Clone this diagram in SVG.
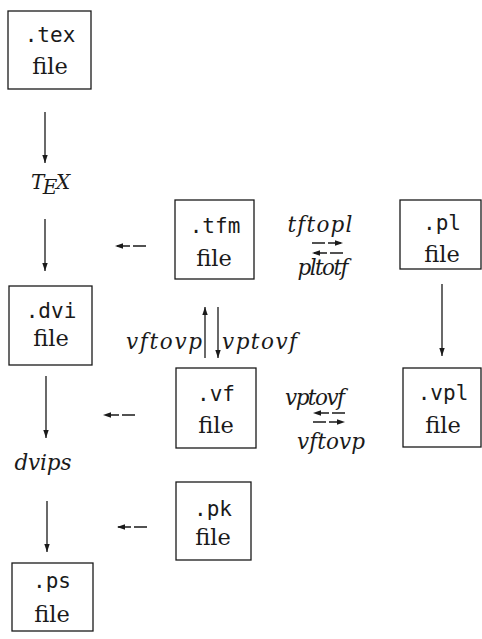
<svg xmlns="http://www.w3.org/2000/svg" width="482" height="639" viewBox="0 0 482 639">
<defs>
<marker id="ah" viewBox="0 0 8 8" refX="8" refY="4" markerWidth="8" markerHeight="8" markerUnits="userSpaceOnUse" orient="auto">
<path d="M0,1.3 L8,4 L0,6.7 z" fill="#1a1a1a"/>
</marker>
<style>
.box{fill:#fff;stroke:#1a1a1a;stroke-width:1.3}
.mono{font-family:"DejaVu Sans Mono","Liberation Mono",monospace;font-size:21px;fill:#1a1a1a;text-anchor:middle}
.ser{font-family:"DejaVu Serif","Liberation Serif",serif;font-size:22.5px;fill:#1a1a1a;text-anchor:middle}
.it{font-family:"DejaVu Serif","Liberation Serif",serif;font-style:italic;font-size:21.5px;fill:#1a1a1a}
.ln{stroke:#1a1a1a;stroke-width:1.3;fill:none;marker-end:url(#ah)}
.dash{stroke-dasharray:13 3}
</style>
</defs>
<rect width="482" height="639" fill="#fff"/>
<g id="connectors">
<line class="ln" x1="45" y1="112" x2="45" y2="163"/>
<line class="ln" x1="45" y1="219" x2="45" y2="271"/>
<line class="ln" x1="46" y1="376" x2="46" y2="438"/>
<line class="ln" x1="47" y1="501" x2="47" y2="552"/>
<line class="ln dash" x1="146" y1="246" x2="115" y2="246"/>
<line class="ln dash" x1="135" y1="415" x2="103" y2="415"/>
<line class="ln dash" x1="147" y1="527" x2="117" y2="527"/>
<line class="ln dash" x1="312" y1="243" x2="343" y2="243"/>
<line class="ln dash" x1="343" y1="253" x2="312" y2="253"/>
<line class="ln dash" x1="345" y1="413" x2="313" y2="413"/>
<line class="ln dash" x1="313" y1="422" x2="345" y2="422"/>
<line class="ln" x1="205" y1="358" x2="205" y2="307"/>
<line class="ln" x1="218" y1="307" x2="218" y2="358"/>
<line class="ln" x1="442" y1="284" x2="442" y2="356"/>
</g>
<g id="labels">
<text class="it" x="31" y="189" style="font-size:20px">T<tspan dx="-1.5" dy="5">E</tspan><tspan dx="-1.5" dy="-5">X</tspan></text>
<text class="it" x="43" y="470" text-anchor="middle" textLength="57">dvips</text>
<text class="it" x="320" y="232" text-anchor="middle" textLength="65">tftopl</text>
<text class="it" x="323" y="275" text-anchor="middle" textLength="51">pltotf</text>
<text class="it" x="202" y="349" text-anchor="end" textLength="76">vftovp</text>
<text class="it" x="222" y="349" textLength="75">vptovf</text>
<text class="it" x="315" y="405" text-anchor="middle" textLength="60">vptovf</text>
<text class="it" x="331" y="449" text-anchor="middle" textLength="68">vftovp</text>
</g>
<g id="tex"><rect class="box" x="8" y="11" width="83" height="78"/><text class="mono" x="50" y="42">.tex</text><text class="ser" x="50" y="74">file</text></g>
<g id="dvi"><rect class="box" x="9" y="286" width="83" height="79"/><text class="mono" x="51" y="318">.dvi</text><text class="ser" x="51" y="346">file</text></g>
<g id="ps"><rect class="box" x="12" y="563" width="81" height="68"/><text class="mono" x="52" y="588">.ps</text><text class="ser" x="52" y="622">file</text></g>
<g id="tfm"><rect class="box" x="175" y="200" width="79" height="79"/><text class="mono" x="215" y="233">.tfm</text><text class="ser" x="214" y="266">file</text></g>
<g id="vf"><rect class="box" x="176" y="368" width="80" height="80"/><text class="mono" x="216" y="401">.vf</text><text class="ser" x="216" y="433">file</text></g>
<g id="pk"><rect class="box" x="176" y="482" width="75" height="78"/><text class="mono" x="213" y="516">.pk</text><text class="ser" x="213" y="545">file</text></g>
<g id="pl"><rect class="box" x="400" y="200" width="81" height="69"/><text class="mono" x="442" y="230">.pl</text><text class="ser" x="442" y="262">file</text></g>
<g id="vpl"><rect class="box" x="403" y="368" width="78" height="79"/><text class="mono" x="443" y="400">.vpl</text><text class="ser" x="443" y="433">file</text></g>
</svg>
